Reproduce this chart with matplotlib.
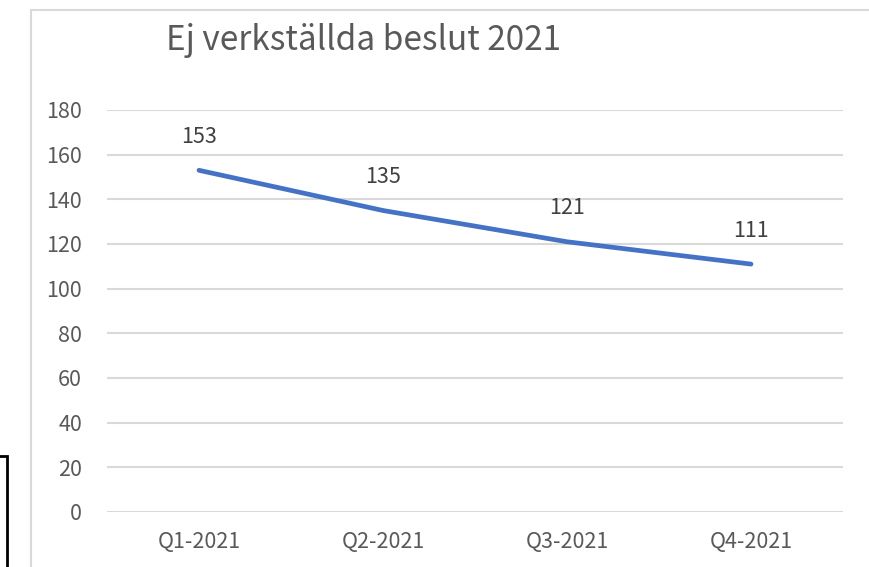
import matplotlib
matplotlib.use("Agg")
import matplotlib.pyplot as plt
from matplotlib.patches import Rectangle

plt.rcParams['font.family'] = ['Noto Sans CJK SC', 'DejaVu Sans']

title = "Ej verkställda beslut 2021"
categories = ["Q1-2021", "Q2-2021", "Q3-2021", "Q4-2021"]
values = [153, 135, 121, 111]
y_ticks = [0, 20, 40, 60, 80, 100, 120, 140, 160, 180]

W, H = 870, 567
fig = plt.figure(figsize=(W / 100, H / 100), dpi=100)
fig.patch.set_facecolor("white")

# outer chart frame (light grey), extends past right/bottom edges
fig.patches.append(Rectangle((30.5 / W, -0.1), 1.2, 1 - 9.5 / H + 0.1,
                             transform=fig.transFigure, fill=False,
                             edgecolor="#d9d9d9", linewidth=1.5, zorder=0))
# black box at lower left
fig.patches.append(Rectangle((-0.05, -0.1), 0.05 + 7 / W, 0.1 + (H - 456) / H,
                             transform=fig.transFigure, fill=False,
                             edgecolor="black", linewidth=2, zorder=0))

ax = fig.add_axes([107 / W, 1 - 512 / H, (843 - 107) / W, (512 - 110) / H])
x = list(range(len(categories)))
ax.plot(x, values, color="#4472C4", linewidth=3.4, solid_capstyle="round",
        solid_joinstyle="round", zorder=3)
for xi, v in zip(x, values):
    ax.annotate(str(v), (xi, v), xytext=(0, 24), textcoords="offset points",
                ha="center", va="center", fontsize=15.5, color="#404040")

ax.set_xlim(-0.5, len(categories) - 0.5)
ax.set_ylim(0, 180)
ax.set_yticks(y_ticks)
ax.set_xticks(x)
ax.set_xticklabels(categories)
ax.tick_params(axis="both", length=0, labelsize=15.5, labelcolor="#595959")
ax.tick_params(axis="y", pad=18)
ax.tick_params(axis="x", pad=14)
ax.grid(axis="y", color="#d9d9d9", linewidth=1.5)
ax.set_axisbelow(True)
for s in ax.spines.values():
    s.set_visible(False)

fig.text(364 / W, 1 - 40 / H, title, ha="center", va="center",
         fontsize=24, color="#595959")

fig.savefig("out.png", dpi=100)
